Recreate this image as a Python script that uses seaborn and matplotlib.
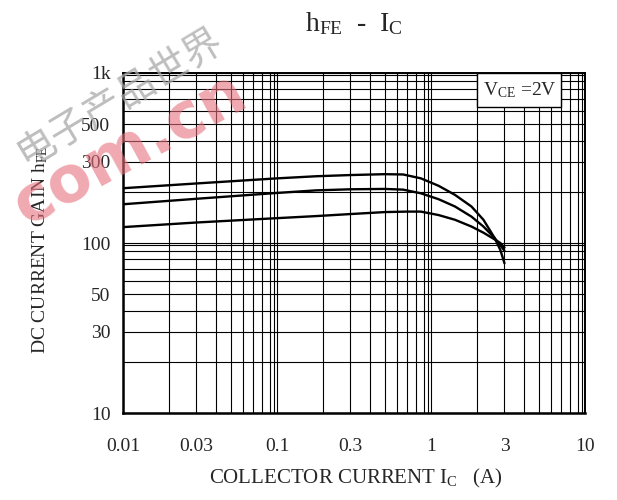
import matplotlib
matplotlib.use("Agg")
import matplotlib.pyplot as plt
import matplotlib.ticker as mticker
from matplotlib.patches import Rectangle
import pandas as pd
import seaborn as sns

# hFE vs IC curves (VCE = 2V)
ic_top = [0.01, 0.03, 0.1, 0.18, 0.3, 0.5, 0.66, 0.86, 1.12, 1.43, 1.83, 2.19, 2.59, 2.82, 3.0]
hfe_top = [210, 224, 240, 247, 251, 254, 253, 240, 217, 192, 164, 137, 107, 91, 76]

ic_mid = [0.01, 0.03, 0.1, 0.18, 0.3, 0.5, 0.66, 0.86, 1.12, 1.43, 1.83, 2.19, 2.59, 2.82, 3.0]
hfe_mid = [169, 182, 197, 204, 207, 208, 206, 196, 181, 164, 143, 125, 107, 97, 90]

ic_low = [0.01, 0.03, 0.1, 0.18, 0.3, 0.5, 0.7, 0.86, 1.12, 1.43, 1.83, 2.19, 2.59, 2.82, 3.0]
hfe_low = [124, 132, 140, 144, 148, 152, 153, 153, 146, 137, 125, 115, 105, 100, 94]

x_ticks = [0.01, 0.03, 0.1, 0.3, 1, 3, 10]
x_labels = ["0.01", "0.03", "0.1", "0.3", "1", "3", "10"]
y_ticks = [10, 30, 50, 100, 300, 500, 1000]
y_labels = ["10", "30", "50", "100", "300", "500", "1k"]

# the printed grid has doubled lines next to some decades
extra_vlines = [0.095, 0.96, 9.6]
extra_hlines = [97, 970]

df = pd.concat([
    pd.DataFrame({"ic": ic_top, "hfe": hfe_top, "curve": "top"}),
    pd.DataFrame({"ic": ic_mid, "hfe": hfe_mid, "curve": "mid"}),
    pd.DataFrame({"ic": ic_low, "hfe": hfe_low, "curve": "low"}),
])

sns.set_style("white")
plt.rcParams["font.family"] = ["Liberation Serif", "DejaVu Serif"]
plt.rcParams["mathtext.fontset"] = "custom"
plt.rcParams["mathtext.rm"] = "Liberation Serif"
plt.rcParams["mathtext.it"] = "Liberation Serif:italic"

fig = plt.figure(figsize=(6.17, 5.0), dpi=100)
ax = fig.add_axes([123 / 617, 87 / 500, 462 / 617, 340 / 500])

sns.lineplot(data=df, x="ic", y="hfe", hue="curve", palette=["black"] * 3,
             estimator=None, sort=False, legend=False, lw=1.7, ax=ax, zorder=4)

ax.set_xscale("log")
ax.set_yscale("log")
ax.set_xlim(0.01, 10)
ax.set_ylim(10, 1000)
ax.set_xticks(x_ticks)
ax.set_xticklabels(x_labels)
ax.set_yticks(y_ticks)
ax.set_yticklabels(y_labels)
ax.xaxis.set_minor_locator(mticker.LogLocator(base=10, subs=range(2, 10)))
ax.yaxis.set_minor_locator(mticker.LogLocator(base=10, subs=range(2, 10)))
ax.xaxis.set_minor_formatter(mticker.NullFormatter())
ax.yaxis.set_minor_formatter(mticker.NullFormatter())
ax.grid(which="both", color="black", lw=0.8)
for v in extra_vlines:
    ax.axvline(v, color="black", lw=0.8, zorder=1)
for h in extra_hlines:
    ax.axhline(h, color="black", lw=0.8, zorder=1)
ax.set_axisbelow(True)
ax.tick_params(which="both", length=0, labelsize=14)
ax.tick_params(axis="x", pad=18)
ax.tick_params(axis="y", pad=9)
for side, s in ax.spines.items():
    s.set_color("black")
    s.set_linewidth(1.8 if side in ("left", "bottom") else 1.4)
ax.set_xlabel("")
ax.set_ylabel("")

# VCE condition box
ax.add_patch(Rectangle((2.0, 631), 5.0, 369, facecolor="white", edgecolor="black",
                       lw=1.0, zorder=5))
ax.text(3.75, 790, r"V$_{\mathrm{CE}}$ =2V", fontsize=14, ha="center", va="center", zorder=6)

fig.text(354 / 617, 1 - 31 / 500, r"h$_{\mathrm{FE}}$  -  I$_{\mathrm{C}}$", fontsize=20,
         ha="center", va="baseline")
fig.text(356 / 617, 1 - 483 / 500, r"COLLECTOR CURRENT I$_{\mathrm{C}}$   (A)", fontsize=15,
         ha="center", va="baseline")
fig.text(40 / 617, 250 / 500, r"DC CURRENT GAIN h$_{\mathrm{FE}}$", fontsize=14,
         ha="center", va="center", rotation=90)

# site watermark
fig.text(20 / 617, 1 - 158 / 500, "电子产品世界", family=["Noto Sans CJK SC"], fontsize=28,
         color="#a8a8a8", alpha=0.75, rotation=31, rotation_mode="anchor",
         ha="left", va="center")
fig.text(26 / 617, 1 - 226 / 500, "com.cn", family=["DejaVu Sans"], fontsize=46,
         fontweight="bold", color="#e6707c", alpha=0.6, rotation=28.5,
         rotation_mode="anchor", ha="left", va="baseline")

fig.savefig("out.png", dpi=100)
